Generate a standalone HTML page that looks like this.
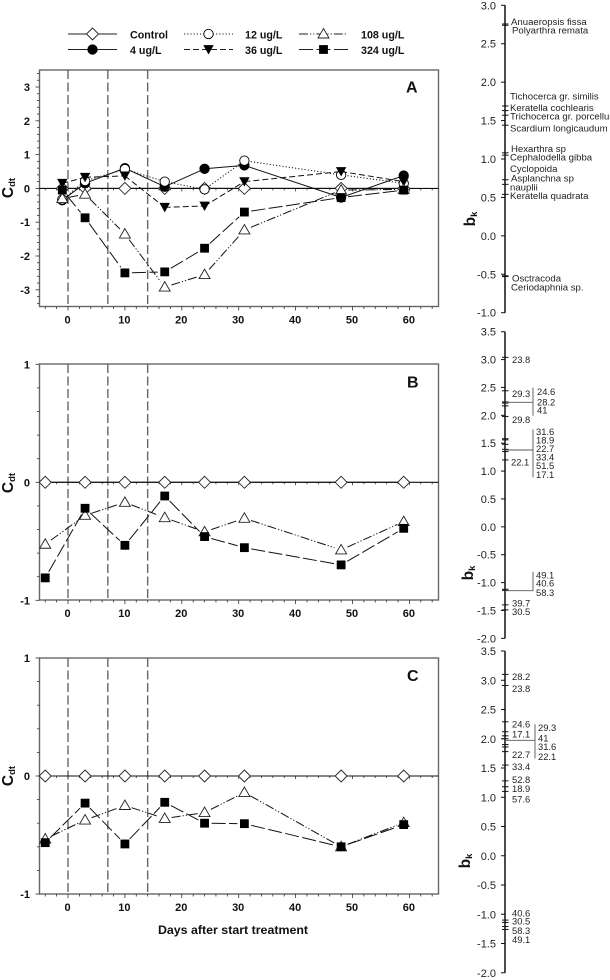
<!DOCTYPE html>
<html lang="en">
<head>
<meta charset="utf-8">
<title>Community response chart</title>
<style>
html,body{margin:0;padding:0;background:#fff;}
svg{display:block;font-family:"Liberation Sans",Arial,sans-serif;filter:blur(0.35px);}
.tl{font-weight:bold;font-size:11px;fill:#111;}
.rt{font-size:11px;fill:#222;text-anchor:end;}
.sp{font-size:9.6px;fill:#222;}
.num{font-size:9.4px;fill:#222;}
.lg{font-weight:bold;font-size:10.7px;fill:#111;}
.xt{font-weight:bold;font-size:12.4px;fill:#111;}
.pl{font-weight:bold;font-size:16px;fill:#111;}
.yt{font-weight:bold;font-size:15.5px;fill:#111;}
</style>
</head>
<body>
<svg id="fig" xmlns="http://www.w3.org/2000/svg" width="610" height="980" viewBox="0 0 610 980">
  <g id="legend">
    <text class="lg" x="130" y="38.5">Control</text>
    <text class="lg" x="130" y="54">4 ug/L</text>
    <text class="lg" x="245" y="38.5">12 ug/L</text>
    <text class="lg" x="245" y="54">36 ug/L</text>
    <text class="lg" x="361" y="38.5">108 ug/L</text>
    <text class="lg" x="361" y="54">324 ug/L</text>
  </g>
  <g id="panelA"></g>
  <g id="panelB"></g>
  <g id="panelC"></g>
  <g id="axis1"></g>
  <g id="axis2"></g>
  <g id="axis3"></g>

  <text class="pl" x="406" y="92.5">A</text>
  <text class="pl" x="407" y="387.5">B</text>
  <text class="pl" x="407" y="681">C</text>

  <text class="yt" transform="translate(13,188) rotate(-90)" text-anchor="middle">C<tspan font-size="9.5" dy="2">dt</tspan></text>
  <text class="yt" transform="translate(13,483) rotate(-90)" text-anchor="middle">C<tspan font-size="9.5" dy="2">dt</tspan></text>
  <text class="yt" transform="translate(13,776) rotate(-90)" text-anchor="middle">C<tspan font-size="9.5" dy="2">dt</tspan></text>
  <text class="xt" x="233" y="934" text-anchor="middle">Days after start treatment</text>

  <text class="yt" transform="translate(475,219) rotate(-90)" text-anchor="middle">b<tspan font-size="9.5" dy="2">k</tspan></text>
  <text class="yt" transform="translate(473,573) rotate(-90)" text-anchor="middle">b<tspan font-size="9.5" dy="2">k</tspan></text>
  <text class="yt" transform="translate(470,861) rotate(-90)" text-anchor="middle">b<tspan font-size="9.5" dy="2">k</tspan></text>

  <g>
    <text class="sp" x="511" y="25">Anuaeropsis fissa</text>
    <text class="sp" x="512" y="33.5">Polyarthra remata</text>
    <text class="sp" x="510" y="99.5">Tichocerca gr. similis</text>
    <text class="sp" x="510" y="111">Keratella cochlearis</text>
    <text class="sp" x="510" y="119.5">Trichocerca gr. porcellus</text>
    <text class="sp" x="510" y="131.5">Scardium longicaudum</text>
    <text class="sp" x="511" y="152">Hexarthra sp</text>
    <text class="sp" x="510" y="160.5">Cephalodella gibba</text>
    <text class="sp" x="510" y="172">Cyclopoida</text>
    <text class="sp" x="511" y="181.5">Asplanchna sp</text>
    <text class="sp" x="510" y="190.5">nauplii</text>
    <text class="sp" x="510" y="199">Keratella quadrata</text>
    <text class="sp" x="512" y="281.5">Osctracoda</text>
    <text class="sp" x="511" y="290.5">Ceriodaphnia sp.</text>
  </g>

  <g>
    <text class="num" x="512" y="363">23.8</text>
    <text class="num" x="512" y="397">29.3</text>
    <text class="num" x="537" y="395">24.6</text>
    <text class="num" x="537" y="405.5">28.2</text>
    <text class="num" x="537" y="413.5">41</text>
    <text class="num" x="512" y="423">29.8</text>
    <text class="num" x="536" y="435">31.6</text>
    <text class="num" x="536" y="443.5">18.9</text>
    <text class="num" x="536" y="452">22.7</text>
    <text class="num" x="536" y="460.5">33.4</text>
    <text class="num" x="536" y="469">51.5</text>
    <text class="num" x="536" y="478">17.1</text>
    <text class="num" x="511" y="465.5">22.1</text>
    <text class="num" x="536" y="578.5">49.1</text>
    <text class="num" x="536" y="586.5">40.6</text>
    <text class="num" x="536" y="596">58.3</text>
    <text class="num" x="512" y="606.5">39.7</text>
    <text class="num" x="512" y="615">30.5</text>
  </g>

  <g>
    <text class="num" x="512" y="680">28.2</text>
    <text class="num" x="512" y="692">23.8</text>
    <text class="num" x="512" y="727.5">24.6</text>
    <text class="num" x="512" y="737.5">17.1</text>
    <text class="num" x="512" y="758">22.7</text>
    <text class="num" x="512" y="770">33.4</text>
    <text class="num" x="512" y="783">52.8</text>
    <text class="num" x="512" y="792">18.9</text>
    <text class="num" x="512" y="802.5">57.6</text>
    <text class="num" x="512" y="916.5">40.6</text>
    <text class="num" x="512" y="924.5">30.5</text>
    <text class="num" x="512" y="934">58.3</text>
    <text class="num" x="512" y="943">49.1</text>
    <text class="num" x="538" y="731">29.3</text>
    <text class="num" x="538" y="741.5">41</text>
    <text class="num" x="538" y="750">31.6</text>
    <text class="num" x="538" y="760">22.1</text>
  </g>

  <g stroke="#555" stroke-width="0.9" fill="none">
    <path d="M505 402.3H533M533 387.7V415.7"/>
    <path d="M505 450H533M533 429.3V477.3"/>
    <path d="M505 590.7H533M533 571.7V590.7"/>
    <path d="M505 740.3H535M535 724.3V758.3"/>
  </g>
</svg>

<script>
// ---- shared categories and treatment days ----
const daysA = [-1, 3, 10, 17, 24, 31, 48, 59];
const daysBC = [-4, 3, 10, 17, 24, 31, 48, 59];
const treatmentDays = [0, 7, 14];
const xTickLabels = [0, 10, 20, 30, 40, 50, 60];
const yTicksA = [-3, -2, -1, 0, 1, 2, 3];
const yTicksBC = [-1, 0, 1];

// ---- panel A values ----
const aControl = [0, 0, 0, 0, 0, 0, 0, 0];
const a4 = [-0.35, 0.15, 0.6, 0.05, 0.58, 0.68, -0.27, 0.38];
const a12 = [-0.33, 0.22, 0.57, 0.2, -0.03, 0.82, 0.4, 0.15];
const a36 = [0.15, 0.33, 0.37, -0.56, -0.52, 0.2, 0.5, 0.2];
const a108 = [-0.3, -0.17, -1.35, -2.92, -2.55, -1.23, -0.05, -0.03];
const a324 = [-0.05, -0.87, -2.5, -2.47, -1.77, -0.7, -0.27, -0.05];

// ---- panel B values ----
const bControl = [0, 0, 0, 0, 0, 0, 0, 0];
const b108 = [-0.525, -0.28, -0.17, -0.3, -0.42, -0.305, -0.573, -0.333];
const b324 = [-0.81, -0.22, -0.534, -0.116, -0.46, -0.554, -0.7, -0.39];

// ---- panel C values ----
const cControl = [0, 0, 0, 0, 0, 0, 0, 0];
const c108 = [-0.534, -0.373, -0.25, -0.36, -0.31, -0.14, -0.6, -0.395];
const c324 = [-0.565, -0.23, -0.576, -0.223, -0.4, -0.404, -0.6, -0.412];

// ---- right-hand bk axes ----
const bkTicksA = ['3.0', '2.5', '2.0', '1.5', '1.0', '0.5', '0.0', '-0.5', '-1.0'];
const bkTicksBC = ['3.5', '3.0', '2.5', '2.0', '1.5', '1.0', '0.5', '0.0', '-0.5', '-1.0', '-1.5', '-2.0'];
const bkValuesA = [2.757, 2.74, 1.69, 1.63, 1.57, 1.44, 1.08, 1.05, 0.73, 0.67, 0.54, -0.52, -0.53];
const bkValuesB = [3.04, 2.44, 2.24, 2.22, 2.17, 1.98, 1.58, 1.56, 1.48, 1.39, 1.35, 1.2, -1.12, -1.14, -1.4, -1.49];
const bkValuesC = [3.10, 2.91, 2.29, 2.12, 2.05, 2.0, 1.9, 1.86, 1.78, 1.55, 1.28, 1.18, 1.10, -1.10, -1.14, -1.21, -1.26];

const NS = 'http://www.w3.org/2000/svg';
function mk(tag, parent) {
  const el = document.createElementNS(NS, tag);
  parent.appendChild(el);
  return el;
}
function seg(parent, x1, y1, x2, y2, color, width) {
  const l = mk('line', parent);
  l.setAttribute('x1', x1);
  l.setAttribute('y1', y1);
  l.setAttribute('x2', x2);
  l.setAttribute('y2', y2);
  l.setAttribute('stroke', color);
  l.setAttribute('stroke-width', width);
  return l;
}
function txt(parent, cls, x, y, s, anchor) {
  const t = mk('text', parent);
  t.setAttribute('class', cls);
  t.setAttribute('x', x);
  t.setAttribute('y', y);
  if (anchor) t.setAttribute('text-anchor', anchor);
  t.textContent = s;
  return t;
}

const styles = {
  control: { dash: '', marker: 'diamond', gap: 0 },
  c4: { dash: '', marker: 'circleFill', gap: 0 },
  c12: { dash: '1.2 2', marker: 'circleOpen', gap: 0 },
  c36: { dash: '6 3', marker: 'triDown', gap: 0 },
  c108: { dash: '9 2 1.2 2 1.2 2', marker: 'triUp', gap: 7 },
  c324: { dash: '14 3.5', marker: 'square', gap: 7 }
};

function marker(parent, kind, x, y) {
  let m;
  if (kind === 'diamond') {
    m = mk('polygon', parent);
    m.setAttribute('points', [x, y - 6, x + 6, y, x, y + 6, x - 6, y].join(' '));
    m.setAttribute('fill', '#fff');
    m.setAttribute('stroke', '#222');
    m.setAttribute('stroke-width', '0.9');
  } else if (kind === 'circleFill' || kind === 'circleOpen') {
    m = mk('circle', parent);
    m.setAttribute('cx', x);
    m.setAttribute('cy', y);
    m.setAttribute('r', '4.7');
    m.setAttribute('fill', kind === 'circleFill' ? '#000' : '#fff');
    m.setAttribute('stroke', '#000');
    m.setAttribute('stroke-width', '0.9');
  } else if (kind === 'triDown') {
    m = mk('polygon', parent);
    m.setAttribute('points', [x - 5.2, y - 4.4, x + 5.2, y - 4.4, x, y + 5].join(' '));
    m.setAttribute('fill', '#000');
  } else if (kind === 'triUp') {
    m = mk('polygon', parent);
    m.setAttribute('points', [x - 5.5, y + 4, x + 5.5, y + 4, x, y - 5.5].join(' '));
    m.setAttribute('fill', '#fff');
    m.setAttribute('stroke', '#222');
    m.setAttribute('stroke-width', '0.9');
  } else {
    m = mk('rect', parent);
    m.setAttribute('x', x - 4.4);
    m.setAttribute('y', y - 4.4);
    m.setAttribute('width', '8.8');
    m.setAttribute('height', '8.8');
    m.setAttribute('fill', '#000');
  }
  return m;
}

function drawPanel(id, opts) {
  const g = document.getElementById(id);
  const days = opts.days;
  const left = 39.5, right = 438.5;
  const xS = v => 68 + v * 5.69;
  const yS = v => opts.zeroY - v * opts.unit;
  const top = opts.top, bottom = opts.bottom;

  // frame
  const frame = mk('rect', g);
  
  
  frame.setAttribute('x', left);
  frame.setAttribute('y', top);
  frame.setAttribute('width', right - left);
  frame.setAttribute('height', bottom - top);
  frame.setAttribute('fill', 'none');
  frame.setAttribute('stroke', '#666');
  frame.setAttribute('stroke-width', '1.4');

  // x ticks (bottom axis and along zero line)
  for (let d = -4; d <= 64; d += 2) {
    const major = d % 10 === 0;
    const t = seg(g, xS(d), bottom, xS(d), bottom + (major ? 4 : 2.5), '#333', 0.8);
    
    
    const z = seg(g, xS(d), yS(0), xS(d), yS(0) + (major ? 3 : 2), '#333', 0.8);
    
    
  }
  xTickLabels.forEach(v => {
    const t = txt(g, 'tl', xS(v) - 0.5, bottom + 17, v, 'middle');
    
    
  });

  // y ticks
  const minSteps = Math.round((opts.yMax - opts.yMin) / 0.2);
  for (let i = 0; i <= minSteps; i++) {
    const v = opts.yMin + i * 0.2;
    const major = Math.abs(v - Math.round(v)) < 0.001 && opts.yTicks.indexOf(Math.round(v)) >= 0;
    const t = seg(g, left - (major ? 4 : 2.5), yS(v), left, yS(v), '#333', 0.8);
    
    
  }
  opts.yTicks.forEach(v => {
    const t = txt(g, 'tl', 30, yS(v) + 4, v, 'end');
    
    
  });

  // zero line
  const zero = seg(g, left, yS(0), right, yS(0), '#111', 1.1);
  
  

  // treatment lines
  treatmentDays.forEach(d => {
    const l = seg(g, xS(d), top, xS(d), bottom, '#666', 1.4);
    l.setAttribute('stroke-dasharray', '9 3.5');
    
    
  });

  // series
  opts.series.forEach(s => {
    const st = styles[s.style];
    const sg = mk('g', g);
    
    
    for (let i = 0; i + 1 < s.values.length; i++) {
      const x1 = xS(days[i]), y1 = yS(s.values[i]);
      const x2 = xS(days[i + 1]), y2 = yS(s.values[i + 1]);
      const len = Math.hypot(x2 - x1, y2 - y1) || 1;
      const ux = (x2 - x1) / len, uy = (y2 - y1) / len;
      const gap = Math.min(st.gap, len / 2 - 0.5);
      const line = seg(sg, x1 + ux * gap, y1 + uy * gap, x2 - ux * gap, y2 - uy * gap, '#111', 1);
      
      
      if (st.dash) line.setAttribute('stroke-dasharray', st.dash);
    }
    s.values.forEach((v, i) => {
      const m = marker(sg, st.marker, xS(days[i]), yS(v));
      
      
    });
  });
}

drawPanel('panelA', {
  days: daysA, top: 70, bottom: 306.5, zeroY: 188.4, unit: 33.8, yMin: -3.4, yMax: 3.4, yTicks: yTicksA,
  series: [
    { name: 'control', style: 'control', values: aControl },
    { name: '4-ug', style: 'c4', values: a4 },
    { name: '12-ug', style: 'c12', values: a12 },
    { name: '36-ug', style: 'c36', values: a36 },
    { name: '108-ug', style: 'c108', values: a108 },
    { name: '324-ug', style: 'c324', values: a324 }
  ]
});
drawPanel('panelB', {
  days: daysBC, top: 364, bottom: 600, zeroY: 482.3, unit: 118, yMin: -1, yMax: 1, yTicks: yTicksBC,
  series: [
    { name: 'control', style: 'control', values: bControl },
    { name: '108-ug', style: 'c108', values: b108 },
    { name: '324-ug', style: 'c324', values: b324 }
  ]
});
drawPanel('panelC', {
  days: daysBC, top: 658, bottom: 894, zeroY: 776, unit: 118, yMin: -1, yMax: 1, yTicks: yTicksBC,
  series: [
    { name: 'control', style: 'control', values: cControl },
    { name: '108-ug', style: 'c108', values: c108 },
    { name: '324-ug', style: 'c324', values: c324 }
  ]
});

// legend keys
const legendKeys = [
  { style: 'control', x: 68, y: 34 },
  { style: 'c4', x: 68, y: 49.5 },
  { style: 'c12', x: 184, y: 34 },
  { style: 'c36', x: 184, y: 49.5 },
  { style: 'c108', x: 299, y: 34 },
  { style: 'c324', x: 299, y: 49.5 }
];
const legendG = document.getElementById('legend');
legendKeys.forEach(k => {
  const l = seg(legendG, k.x, k.y, k.x + 49, k.y, '#222', 1);
  
  
  if (styles[k.style].dash) l.setAttribute('stroke-dasharray', styles[k.style].dash);
  const m = marker(legendG, styles[k.style].marker, k.x + 24.5, k.y);
  
  
});

function drawBk(id, opts) {
  const g = document.getElementById(id);
  const X = 505;
  const yS = v => opts.topY + (opts.topV - v) * opts.unit;
  const axis = seg(g, X, yS(opts.topV), X, yS(opts.botV), '#111', 1.5);
  
  
  opts.ticks.forEach(s => {
    const v = parseFloat(s);
    const t = seg(g, X - 4, yS(v), X, yS(v), '#111', 1);
    
    
    const lab = txt(g, 'rt', 496, yS(v) + 4, s);
    
    
  });
  opts.values.forEach(v => {
    const m = seg(g, X - 3, yS(v), X + 3.5, yS(v), '#111', 1);
    
    
  });
}
drawBk('axis1', { topY: 5.3, topV: 3, botV: -1, unit: 76.85, ticks: bkTicksA, values: bkValuesA });
drawBk('axis2', { topY: 331.7, topV: 3.5, botV: -2, unit: 55.75, ticks: bkTicksBC, values: bkValuesB });
drawBk('axis3', { topY: 651, topV: 3.5, botV: -2, unit: 58.5, ticks: bkTicksBC, values: bkValuesC });
</script>
</body>
</html>
